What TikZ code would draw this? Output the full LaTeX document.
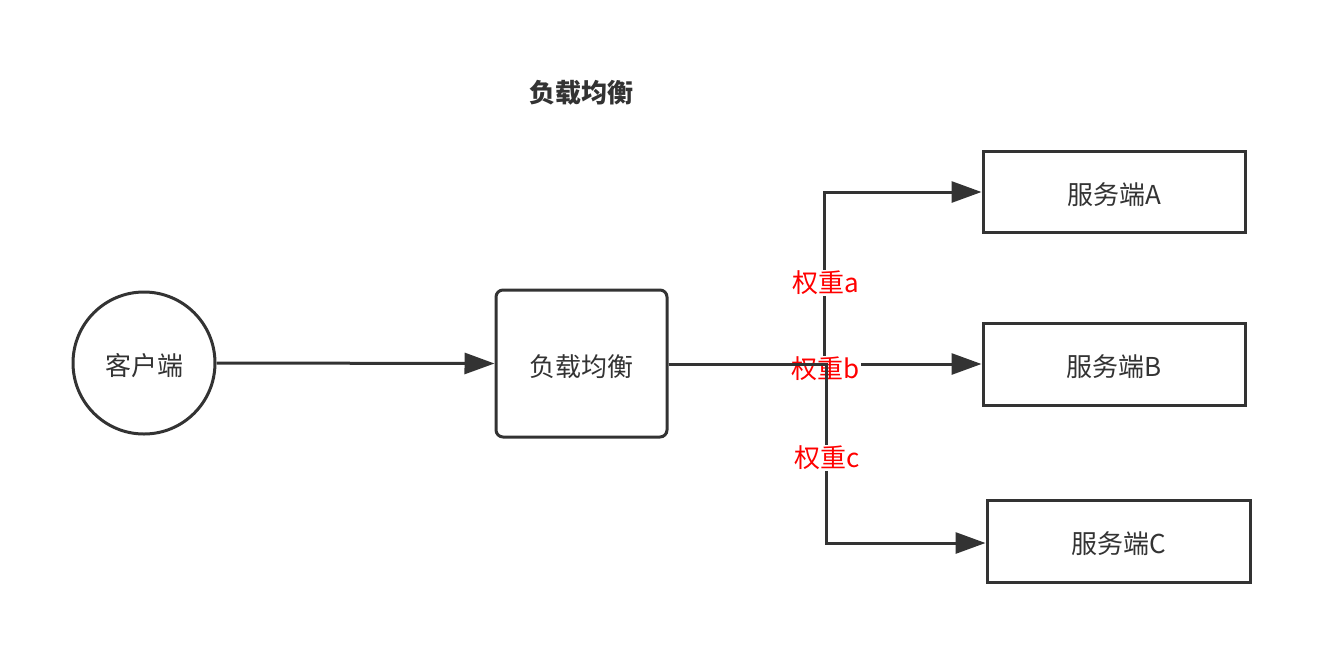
\documentclass[tikz,border=0pt]{standalone}
\usepackage{fontspec}
\setmainfont{Noto Sans CJK SC}
\usetikzlibrary{arrows.meta,positioning}
\definecolor{ink}{HTML}{333333}
\definecolor{lbl}{HTML}{FF0000}
\newcommand{\lowered}[1]{\raisebox{-3pt}[\height][\depth]{#1}}
\begin{document}
\begin{tikzpicture}[x=1pt,y=-1pt,
  txt/.style={font=\fontsize{26}{30}\selectfont, text=ink},
  boxnode/.style={draw=ink, line width=3pt, fill=white, inner sep=0pt, txt},
  conn/.style={draw=ink, line width=3pt, -{Triangle[length=30pt,width=21pt]}},
  wlabel/.style={font=\fontsize{26}{30}\selectfont, text=lbl, fill=white, inner sep=1pt}]
\useasboundingbox (0,0) rectangle (1321,665);
\node[txt, font=\fontsize{26}{30}\selectfont\bfseries] (title) at (581,93) {负载均衡};
\node[boxnode, circle, minimum size=142pt] (client) at (144,363) {\lowered{客户端}};
\node[boxnode, rectangle, rounded corners=7pt, minimum width=171pt, minimum height=147pt] (lb) at (581.5,363.5) {\lowered{负载均衡}};
\node[boxnode, rectangle, minimum width=262pt, minimum height=81pt] (sa) at (1114,191.5) {\lowered{服务端A}};
\node[boxnode, rectangle, minimum width=262pt, minimum height=82pt] (sb) at (1114,364) {\lowered{服务端B}};
\node[boxnode, rectangle, minimum width=263pt, minimum height=82pt] (sc) at (1118.5,541) {\lowered{服务端C}};
\coordinate (ja1) at (824,364);
\coordinate (ja2) at (824,192);
\coordinate (jc1) at (826,364);
\coordinate (jc2) at (826,543);
\draw[conn] (client.east) -- (lb.west);
\draw[conn] (lb.east |- ja1) -- (ja1) -- (ja2) -- (sa.west |- ja2);
\node[wlabel] (la) at (826,283) {权重a};
\draw[conn] (lb.east |- sb.west) -- (sb.west);
\node[wlabel] (lbb) at (826,369) {权重b};
\draw[conn] (lb.east |- jc1) -- (jc1) -- (jc2) -- (sc.west |- jc2);
\node[wlabel] (lc) at (827,458) {权重c};
\end{tikzpicture}
\end{document}
